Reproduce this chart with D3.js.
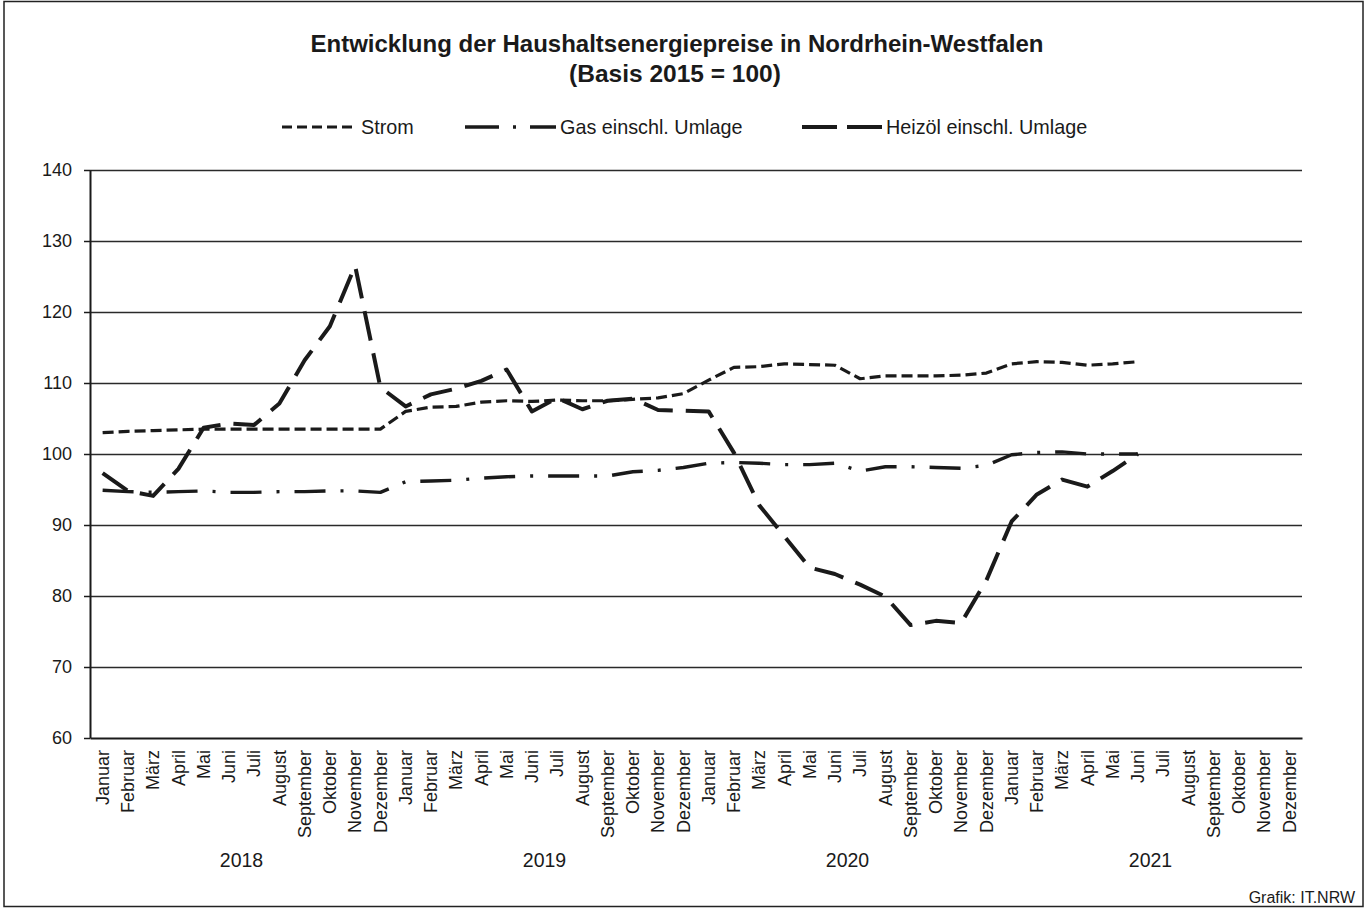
<!DOCTYPE html>
<html><head><meta charset="utf-8">
<script src="https://cdn.jsdelivr.net/npm/d3@7"></script>
<style>
body{margin:0;background:#fff;}
svg{display:block;font-family:"Liberation Sans",Arial,sans-serif;}
</style></head>
<body>
<svg id="c" width="1368" height="908"></svg>
<script>
const months = ["Januar","Februar","März","April","Mai","Juni","Juli","August","September","Oktober","November","Dezember"];
const years = ["2018","2019","2020","2021"];
const yTicks = [60,70,80,90,100,110,120,130,140];
const seriesNames = ["Strom","Gas einschl. Umlage","Heizöl einschl. Umlage"];
const strom = [103.0,103.2,103.3,103.4,103.5,103.5,103.5,103.5,103.5,103.5,103.5,103.5,
  106.0,106.6,106.7,107.3,107.5,107.4,107.6,107.5,107.5,107.7,107.9,108.5,
  110.4,112.2,112.3,112.7,112.6,112.5,110.6,111.0,111.0,111.0,111.1,111.4,
  112.7,113.0,112.9,112.5,112.7,113.0];
const gas = [94.9,94.7,94.6,94.7,94.8,94.6,94.6,94.7,94.7,94.8,94.8,94.6,
  96.1,96.2,96.3,96.6,96.8,96.9,96.9,96.9,96.9,97.5,97.7,98.1,
  98.7,98.8,98.7,98.5,98.5,98.7,97.6,98.2,98.2,98.1,98.0,98.4,
  99.9,100.2,100.3,100.0,100.0,100.0];
const heizoel = [97.3,94.8,94.1,97.9,103.7,104.3,104.1,107.1,113.2,118.0,126.5,109.4,
  106.7,108.4,109.2,110.3,111.9,106.0,107.9,106.3,107.5,107.8,106.2,106.1,
  106.0,100.2,92.8,88.4,84.0,83.1,81.6,79.9,75.9,76.5,76.2,82.2,
  90.5,94.3,96.4,95.4,97.6,100.0];

const svg = d3.select("#c");
const L=90, R=1302, T=170, B=738;
const nSlots = months.length*years.length;
const x = d3.scaleBand().domain(d3.range(nSlots)).range([L,R]);
const cx = i => x(i)+x.bandwidth()/2;
const y = d3.scaleLinear().domain([60,140]).range([B,T]);

// border
svg.append("rect").attr("x",4).attr("y",1.5).attr("width",1359).attr("height",905)
  .attr("fill","none").attr("stroke","#222").attr("stroke-width",1.5);

// title
svg.append("text").attr("x",677).attr("y",52).attr("text-anchor","middle")
  .attr("font-size",24).attr("font-weight","bold").attr("fill","#1a1a1a")
  .text("Entwicklung der Haushaltsenergiepreise in Nordrhein-Westfalen");
svg.append("text").attr("x",675).attr("y",82).attr("text-anchor","middle")
  .attr("font-size",24.5).attr("font-weight","bold").attr("fill","#1a1a1a")
  .text("(Basis 2015 = 100)");

// gridlines
const grid = svg.append("g").attr("transform",`translate(${L},0)`)
  .call(d3.axisLeft(y).tickValues(yTicks.filter(v=>v>60)).tickSize(-(R-L)).tickFormat(""));
grid.select(".domain").remove();
grid.selectAll("line").attr("stroke","#2a2a2a").attr("stroke-width",1.5);

// y axis
const ya = svg.append("g").attr("transform",`translate(${L},0)`)
  .call(d3.axisLeft(y).tickValues(yTicks).tickSize(6).tickPadding(12).tickSizeOuter(0));
ya.select(".domain").attr("stroke","#1a1a1a").attr("stroke-width",2);
ya.selectAll("line").attr("stroke","#1a1a1a").attr("stroke-width",1.5);
ya.selectAll("text").attr("font-size",18).attr("fill","#1a1a1a").attr("font-family","Liberation Sans, Arial, sans-serif");

// x axis
const xa = svg.append("g").attr("transform",`translate(0,${B})`)
  .call(d3.axisBottom(x).tickSize(0).tickSizeOuter(0).tickFormat(i=>months[i%12]));
xa.select(".domain").attr("stroke","#1a1a1a").attr("stroke-width",2);
xa.selectAll("text").attr("transform","rotate(-90)").attr("text-anchor","end")
  .attr("x",-12).attr("y",0).attr("dy","0.35em")
  .attr("font-size",18).attr("fill","#1a1a1a").attr("font-family","Liberation Sans, Arial, sans-serif");

// year labels
svg.append("g").selectAll("text").data(years).join("text")
  .attr("x",(d,k)=>(x(k*12)+x(k*12+11)+x.bandwidth())/2)
  .attr("y",867).attr("text-anchor","middle").attr("font-size",19.5).attr("fill","#1a1a1a")
  .text(d=>d);

// lines
const styles = [
  {data:strom, dash:"11,5", w:3.2},
  {data:gas, dash:"31,15,3,15", w:3.4},
  {data:heizoel, dash:"30,13", w:4}
];
const line = d3.line().x((d,i)=>cx(i)).y(d=>y(d));
styles.forEach(s=>{
  svg.append("path").datum(s.data).attr("d",line).attr("fill","none")
    .attr("stroke","#1a1a1a").attr("stroke-width",s.w).attr("stroke-dasharray",s.dash)
    .attr("stroke-linejoin","round");
});

// legend
const legPos = [{x1:282,x2:357,tx:361},{x1:465,x2:556,tx:560},{x1:802,x2:882,tx:886}];
const legDash = ["10,5","34,14,3,14","35,10"];
seriesNames.forEach((n,k)=>{
  const p = legPos[k];
  svg.append("line").attr("x1",p.x1).attr("x2",p.x2).attr("y1",127).attr("y2",127)
    .attr("stroke","#1a1a1a").attr("stroke-width",styles[k].w).attr("stroke-dasharray",legDash[k]);
  svg.append("text").attr("x",p.tx).attr("y",134).attr("font-size",19.8).attr("fill","#1a1a1a").text(n);
});

// source
svg.append("text").attr("x",1355).attr("y",903).attr("text-anchor","end")
  .attr("font-size",16).attr("fill","#1a1a1a").text("Grafik: IT.NRW");
</script>
</body></html>
